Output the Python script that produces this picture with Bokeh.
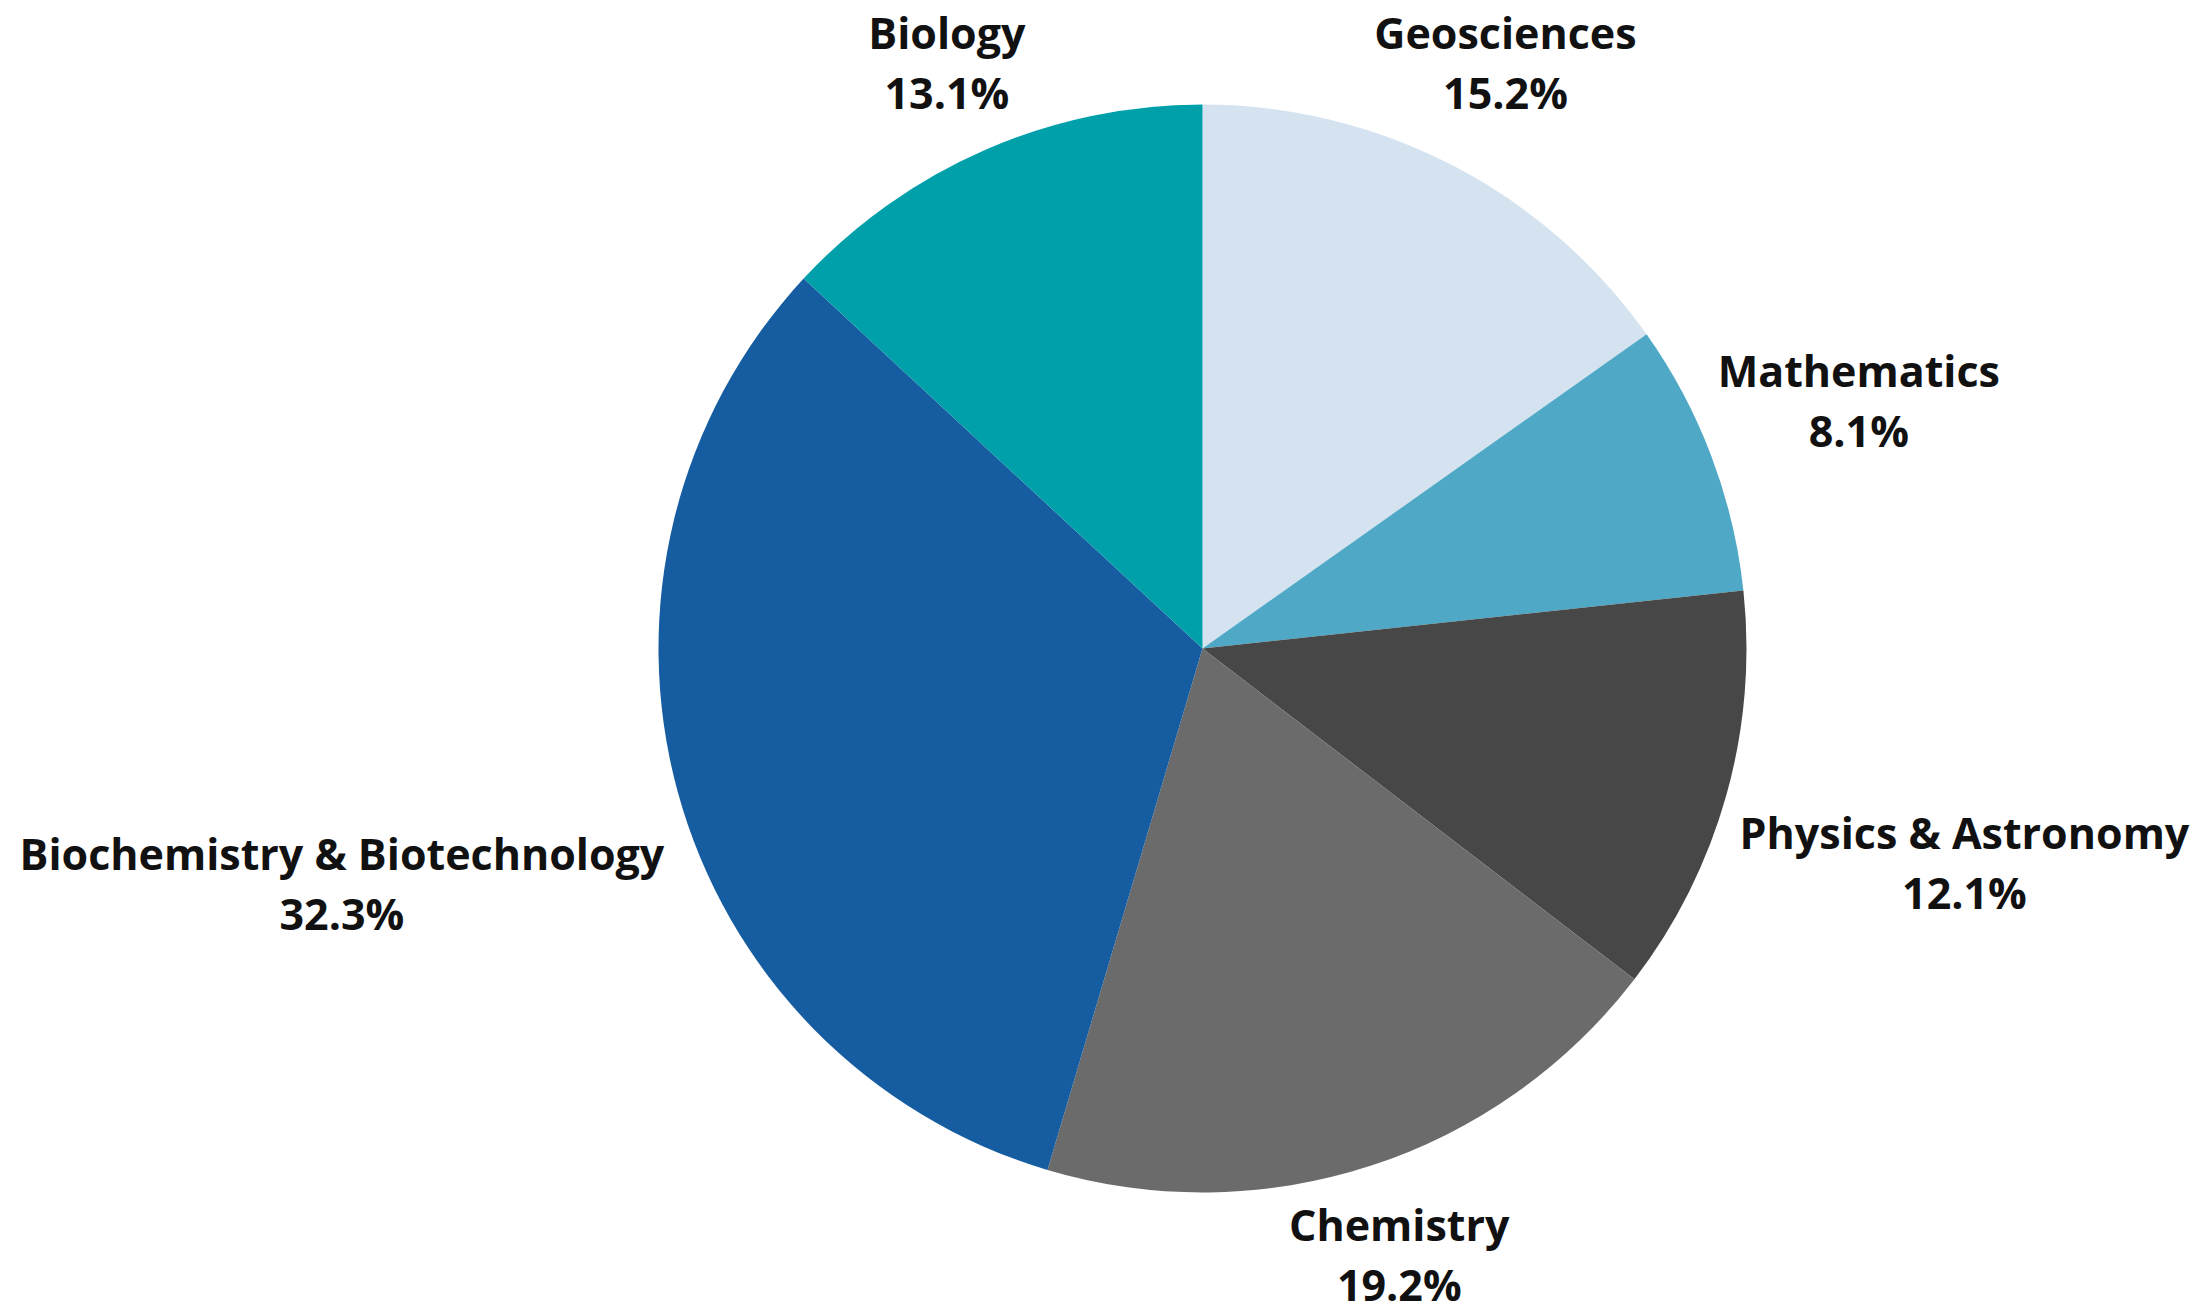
import math
from bokeh.plotting import figure
from bokeh.models import Range1d, ColumnDataSource
from bokeh.core.properties import value
from bokeh.embed import file_html
from bokeh.resources import INLINE

# ---- data ----
categories = ["Geosciences", "Mathematics", "Physics & Astronomy",
              "Chemistry", "Biochemistry & Biotechnology", "Biology"]
shares = [15.2, 8.1, 12.1, 19.2, 32.3, 13.1]
colors = ["#d4e3ef", "#4fa8c5", "#474747", "#6b6b6b", "#165ca0", "#00a0aa"]

# ---- layout ----
W, H = 2204, 1314
CX, CY = 1202, H - 648
R = 544
GAP = 19
FONT = "Open Sans"
FS = 43
LINE_SP = 60
CHAR_W = 23.5
BOX_H = 100

total = sum(shares)
starts, ends, mids = [], [], []
cum = 0.0
for v in shares:
    a0 = cum / total
    cum += v
    a1 = cum / total
    starts.append(math.pi / 2 - 2 * math.pi * a0)
    ends.append(math.pi / 2 - 2 * math.pi * a1)
    mids.append(2 * math.pi * (a0 + a1) / 2)  # clockwise from top

src = ColumnDataSource(dict(x=[CX] * len(shares), y=[CY] * len(shares),
                            start=starts, end=ends, color=colors))

p = figure(width=W, height=H, output_backend="svg", toolbar_location=None,
           x_range=Range1d(0, W), y_range=Range1d(0, H), min_border=0)
p.axis.visible = False
p.grid.visible = False
p.outline_line_color = None
p.background_fill_color = "white"
p.border_fill_color = "white"

p.wedge(x="x", y="y", radius=R, start_angle="start", end_angle="end",
        direction="clock", fill_color="color", line_color=None, source=src)

# label placement: box center along mid-angle, nearest point at R + GAP
lx, ly, names, pcts = [], [], [], []
for name, v, th in zip(categories, shares, mids):
    dx, dy = math.sin(th), math.cos(th)
    w = len(name) * CHAR_W
    h = BOX_H
    lo, hi = 0.0, 3000.0
    for _ in range(60):
        t = (lo + hi) / 2
        cx, cy = t * dx, t * dy
        ex = max(abs(cx) - w / 2, 0)
        ey = max(abs(cy) - h / 2, 0)
        d = math.hypot(ex, ey)
        if d < R + GAP:
            lo = t
        else:
            hi = t
    lx.append(CX + hi * dx)
    ly.append(CY + hi * dy)
    names.append(name)
    pcts.append(f"{v:.1f}%")

lsrc = ColumnDataSource(dict(x=lx, y=ly, name=names, pct=pcts))
p.text(x="x", y="y", text="name", source=lsrc, y_offset=-LINE_SP / 2,
       text_align="center", text_baseline="middle", text_font=value(FONT),
       text_font_style="bold", text_font_size=f"{FS}px", text_color="#111111")
p.text(x="x", y="y", text="pct", source=lsrc, y_offset=LINE_SP / 2,
       text_align="center", text_baseline="middle", text_font=value(FONT),
       text_font_style="bold", text_font_size=f"{FS}px", text_color="#111111")

open("out.html", "w").write(file_html(p, INLINE))
